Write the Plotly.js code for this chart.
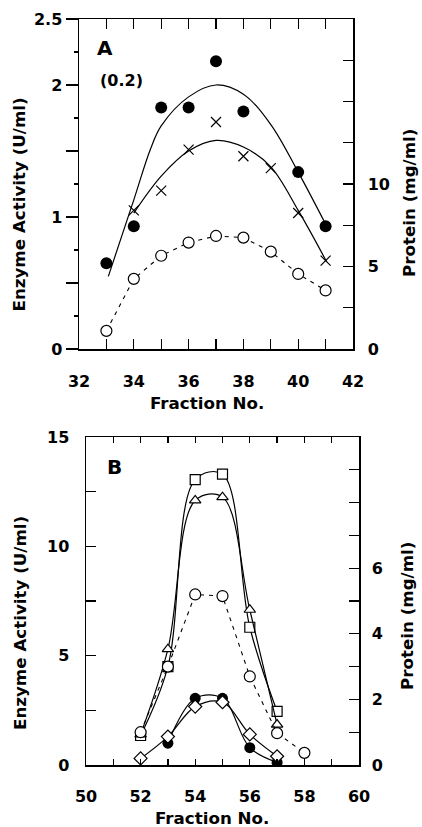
<!DOCTYPE html>
<html>
<head>
<meta charset="utf-8">
<script src="https://cdn.plot.ly/plotly-3.0.1.min.js"></script>
<style>html,body{margin:0;padding:0;background:#fff}#chart{width:422px;height:827px}</style>
</head>
<body>
<div id="chart"></div>
<script>
// ---------- Panel A data ----------
const aFilledX = [33, 34, 35, 36, 37, 38, 40, 41];
const aFilledY = [0.65, 0.93, 1.83, 1.83, 2.18, 1.80, 1.34, 0.93];
const aCrossX = [34, 35, 36, 37, 38, 39, 40, 41];
const aCrossY = [1.05, 1.20, 1.51, 1.72, 1.46, 1.37, 1.03, 0.67];
const aFitUpperX = [33.07, 34, 34.6, 35, 36, 37, 38, 39, 40, 41.04];
const aFitUpperY = [0.55, 1.13, 1.51, 1.69, 1.91, 2.0, 1.93, 1.70, 1.34, 0.93];
const aFitLowerX = [34, 35, 36, 37, 38, 39, 40, 41.04];
const aFitLowerY = [1.03, 1.31, 1.50, 1.58, 1.53, 1.38, 1.05, 0.66];
const aProteinX = [33, 34, 35, 36, 37, 38, 39, 40, 41];
const aProteinY = [1.1, 4.25, 5.65, 6.45, 6.85, 6.75, 5.9, 4.55, 3.55];

// ---------- Panel B data ----------
const bSquareX = [52, 53, 54, 55, 56, 57];
const bSquareY = [1.35, 4.5, 13.05, 13.3, 6.3, 2.45];
const bTriX = [52, 53, 54, 55, 56, 57];
const bTriY = [1.4, 5.3, 12.1, 12.25, 7.1, 1.85];
const bProteinX = [52, 53, 54, 55, 56, 57, 58];
const bProteinY = [1.0, 3.0, 5.2, 5.15, 2.7, 0.97, 0.37];
const bFilledX = [53, 54, 55, 56, 57];
const bFilledY = [1.0, 3.05, 3.05, 0.79, 0.12];
const bDiamondX = [52, 53, 54, 55, 56, 57];
const bDiamondY = [0.3, 1.3, 2.67, 2.87, 1.4, 0.4];

// ---------- tick labels ----------
const aXTicks = [32,33,34,35,36,37,38,39,40,41,42];
const aXText = ['32','','34','','36','','38','','40','','42'];
const aYTicks = [0, 0.5, 1, 1.5, 2, 2.5];
const aYText = ['0', '', '1', '', '2', '2.5'];
const aYMinor = [0.25, 0.75, 1.25, 1.75, 2.25];
const aY2Ticks = [0, 2.5, 5, 7.5, 10, 12.5, 15, 17.5, 20];
const aY2Text = ['0', '', '5', '', '10', '', '', '', ''];
const bXTicks = [50,51,52,53,54,55,56,57,58,59,60];
const bXText = ['50','','52','','54','','56','','58','','60'];
const bYTicks = [0, 2.5, 5, 7.5, 10, 12.5, 15];
const bYText = ['0', '', '5', '', '10', '', '15'];
const bY2Ticks = [0,1,2,3,4,5,6,7,8,9,10];
const bY2Text = ['0','','2','','4','','6','','','',''];

const W = 422, H = 827;
const px = v => v / W;
const py = v => 1 - v / H;
const tickFont = {family: 'DejaVu Sans', size: 16, color: '#000', weight: 'bold'};
const titleFont = {family: 'DejaVu Sans', size: 16.7, color: '#000', weight: 'bold'};
const blk = '#000';

const traces = [
  // Panel A
  {x: aFitUpperX, y: aFitUpperY, xaxis: 'x', yaxis: 'y', mode: 'lines', line: {color: blk, width: 1.2, shape: 'spline'}, hoverinfo: 'skip'},
  {x: aFitLowerX, y: aFitLowerY, xaxis: 'x', yaxis: 'y', mode: 'lines', line: {color: blk, width: 1.2, shape: 'spline'}, hoverinfo: 'skip'},
  {x: aFilledX, y: aFilledY, xaxis: 'x', yaxis: 'y', mode: 'markers', marker: {symbol: 'circle', size: 12, color: blk}},
  {x: aCrossX, y: aCrossY, xaxis: 'x', yaxis: 'y', mode: 'markers', marker: {symbol: 'x-thin-open', size: 10, color: blk, line: {color: blk, width: 1.2}}},
  {x: aProteinX, y: aProteinY, xaxis: 'x', yaxis: 'y2', mode: 'lines+markers', line: {color: blk, width: 1.1, dash: '4px,5px'}, marker: {symbol: 'circle', size: 11, color: '#fff', line: {color: blk, width: 1.2}}},
  // Panel B
  {x: bSquareX, y: bSquareY, xaxis: 'x2', yaxis: 'y4', mode: 'lines+markers', line: {color: blk, width: 1.2, shape: 'spline'}, marker: {symbol: 'square', size: 10, color: '#fff', line: {color: blk, width: 1.2}}},
  {x: bTriX, y: bTriY, xaxis: 'x2', yaxis: 'y4', mode: 'lines+markers', line: {color: blk, width: 1.2, shape: 'spline'}, marker: {symbol: 'triangle-up', size: 10, color: '#fff', line: {color: blk, width: 1.2}}},
  {x: bFilledX, y: bFilledY, xaxis: 'x2', yaxis: 'y4', mode: 'lines+markers', line: {color: blk, width: 1.2, shape: 'spline'}, marker: {symbol: 'circle', size: 11, color: blk}},
  {x: bDiamondX, y: bDiamondY, xaxis: 'x2', yaxis: 'y4', mode: 'lines+markers', line: {color: blk, width: 1.2, shape: 'spline'}, marker: {symbol: 'diamond', size: 10, color: '#fff', line: {color: blk, width: 1.2}}},
  {x: bProteinX, y: bProteinY, xaxis: 'x2', yaxis: 'y5', mode: 'lines+markers', line: {color: blk, width: 1.1, dash: '4px,5px'}, marker: {symbol: 'circle', size: 11, color: '#fff', line: {color: blk, width: 1.2}}}
];

const axBase = {showgrid: false, zeroline: false, linecolor: blk, linewidth: 1.5, tickcolor: blk, tickwidth: 1.3, tickfont: tickFont, fixedrange: true};

const layout = {
  width: W, height: H,
  margin: {l: 0, r: 0, t: 0, b: 0},
  paper_bgcolor: '#fff', plot_bgcolor: 'rgba(0,0,0,0)',
  showlegend: false,
  xaxis: Object.assign({}, axBase, {domain: [px(79), px(353)], range: [32, 42], anchor: 'y', showline: true, mirror: 'ticks', ticks: 'inside', ticklen: 10, tickmode: 'array', tickvals: aXTicks, ticktext: aXText, ticklabelstandoff: 17}),
  yaxis: Object.assign({}, axBase, {domain: [py(349), py(19)], range: [0, 2.5], anchor: 'x', side: 'left', showline: true, ticks: 'outside', ticklen: 12, tickmode: 'array', tickvals: aYTicks, ticktext: aYText, ticklabelstandoff: 0,
    minor: {tickmode: 'array', tickvals: aYMinor, ticks: 'outside', ticklen: 4, tickcolor: blk, tickwidth: 1.3}}),
  yaxis3: Object.assign({}, axBase, {overlaying: 'y', anchor: 'x', side: 'left', range: [0, 2.5], showline: false, ticks: 'inside', ticklen: 11, tickmode: 'array', tickvals: aYTicks, showticklabels: false,
    minor: {tickmode: 'array', tickvals: aYMinor, ticks: 'inside', ticklen: 7, tickcolor: blk, tickwidth: 1.3}}),
  yaxis2: Object.assign({}, axBase, {overlaying: 'y', anchor: 'x', side: 'right', range: [0, 20], showline: true, ticks: 'inside', ticklen: 10, tickmode: 'array', tickvals: aY2Ticks, ticktext: aY2Text, ticklabelstandoff: 10}),
  xaxis2: Object.assign({}, axBase, {domain: [px(86), px(359)], range: [50, 60], anchor: 'y4', showline: true, mirror: 'ticks', ticks: 'inside', ticklen: 6, tickmode: 'array', tickvals: bXTicks, ticktext: bXText, ticklabelstandoff: 16}),
  yaxis4: Object.assign({}, axBase, {domain: [py(765), py(437)], range: [0, 15], anchor: 'x2', side: 'left', showline: true, ticks: 'inside', ticklen: 10, tickmode: 'array', tickvals: bYTicks, ticktext: bYText, ticklabelstandoff: 12}),
  yaxis5: Object.assign({}, axBase, {overlaying: 'y4', anchor: 'x2', side: 'right', range: [0, 10], showline: true, ticks: 'inside', ticklen: 10, tickmode: 'array', tickvals: bY2Ticks, ticktext: bY2Text, ticklabelstandoff: 8}),
  annotations: [
    {text: 'A', x: px(105), y: py(48), xref: 'paper', yref: 'paper', showarrow: false, xanchor: 'center', yanchor: 'middle', font: {family: 'DejaVu Sans', size: 20, color: blk, weight: 'bold'}},
    {text: '(0.2)', x: px(121), y: py(81), xref: 'paper', yref: 'paper', showarrow: false, xanchor: 'center', yanchor: 'middle', font: {family: 'DejaVu Sans', size: 16, color: blk, weight: 'bold'}},
    {text: 'B', x: px(115), y: py(467), xref: 'paper', yref: 'paper', showarrow: false, xanchor: 'center', yanchor: 'middle', font: {family: 'DejaVu Sans', size: 20, color: blk, weight: 'bold'}},
    {text: 'Enzyme Activity (U/ml)', textangle: -90, x: px(18.5), y: py(205), xref: 'paper', yref: 'paper', showarrow: false, xanchor: 'center', yanchor: 'middle', font: titleFont},
    {text: 'Protein (mg/ml)', textangle: -90, x: px(409), y: py(203), xref: 'paper', yref: 'paper', showarrow: false, xanchor: 'center', yanchor: 'middle', font: titleFont},
    {text: 'Fraction No.', x: px(207), y: py(403), xref: 'paper', yref: 'paper', showarrow: false, xanchor: 'center', yanchor: 'middle', font: titleFont},
    {text: 'Enzyme Activity (U/ml)', textangle: -90, x: px(20), y: py(623), xref: 'paper', yref: 'paper', showarrow: false, xanchor: 'center', yanchor: 'middle', font: titleFont},
    {text: 'Protein (mg/ml)', textangle: -90, x: px(407), y: py(616), xref: 'paper', yref: 'paper', showarrow: false, xanchor: 'center', yanchor: 'middle', font: titleFont},
    {text: 'Fraction No.', x: px(212), y: py(818), xref: 'paper', yref: 'paper', showarrow: false, xanchor: 'center', yanchor: 'middle', font: titleFont}
  ]
};

Plotly.newPlot('chart', traces, layout, {staticPlot: true, displayModeBar: false});
</script>
</body>
</html>
